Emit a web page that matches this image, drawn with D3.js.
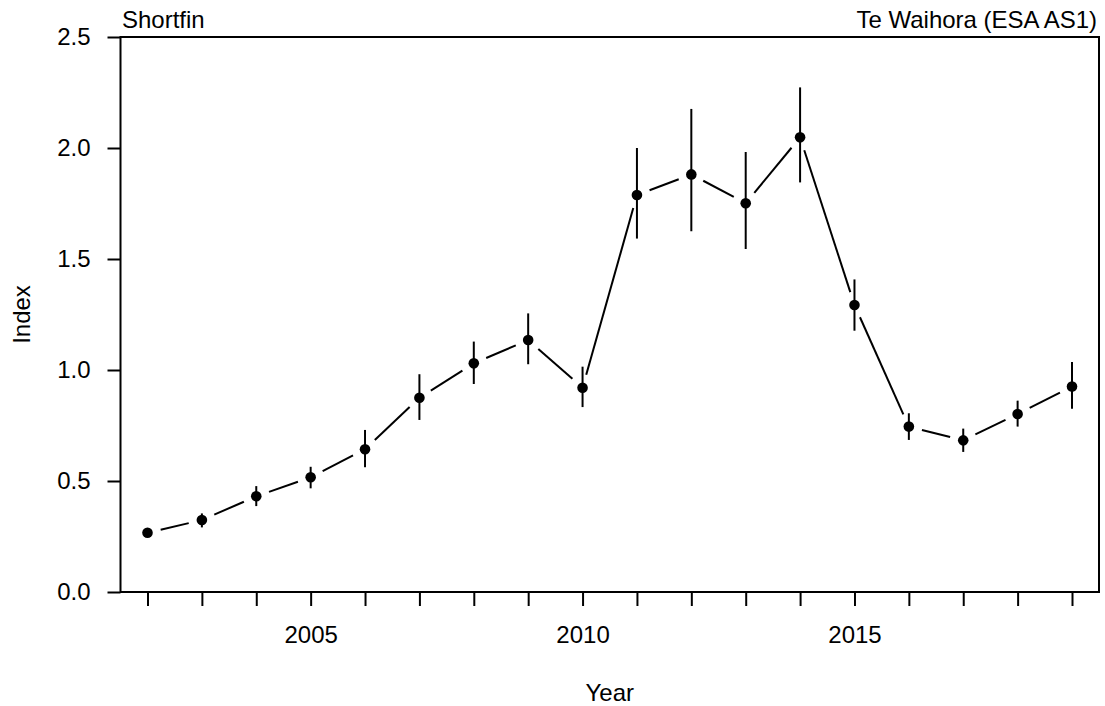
<!DOCTYPE html>
<html>
<head>
<meta charset="utf-8">
<script src="https://cdn.jsdelivr.net/npm/d3@7"></script>
<style>
  body { margin: 0; background: #fff; }
  text { font-family: "Liberation Sans", Arial, sans-serif; fill: #000; }
</style>
</head>
<body>
<div id="display"></div>
<script>
// data
var years = [2002, 2003, 2004, 2005, 2006, 2007, 2008, 2009, 2010, 2011, 2012, 2013, 2014, 2015, 2016, 2017, 2018, 2019];
var index = [0.267, 0.324, 0.431, 0.517, 0.643, 0.875, 1.030, 1.135, 0.920, 1.788, 1.881, 1.751, 2.048, 1.293, 0.745, 0.683, 0.802, 0.926];
var lower = [0.255, 0.291, 0.387, 0.467, 0.562, 0.775, 0.937, 1.026, 0.833, 1.592, 1.625, 1.545, 1.845, 1.177, 0.685, 0.631, 0.745, 0.826];
var upper = [0.282, 0.354, 0.477, 0.564, 0.730, 0.981, 1.128, 1.255, 1.015, 2.000, 2.176, 1.982, 2.273, 1.408, 0.805, 0.736, 0.862, 1.036];
var yTicks = [0, 0.5, 1.0, 1.5, 2.0, 2.5];
var xLabels = [2005, 2010, 2015];

var width = 1105, height = 706;
var box = {left: 120.5, right: 1099, top: 37, bottom: 592};

var svg = d3.select("#display").append("svg")
    .attr("width", width)
    .attr("height", height);

var x = d3.scaleLinear()
    .domain([2002, 2019])
    .range([147.5, 1072]);

var y = d3.scaleLinear()
    .domain([0, 2.5])
    .range([box.bottom, box.top]);

// axes
var yAxis = svg.append("g")
    .attr("transform", "translate(" + box.left + ",0)")
    .call(d3.axisLeft(y).tickValues(yTicks).tickFormat(d3.format(".1f"))
      .tickSize(13).tickPadding(17).tickSizeOuter(0));
yAxis.select(".domain").remove();

var xAxis = svg.append("g")
    .attr("transform", "translate(0," + box.bottom + ")")
    .call(d3.axisBottom(x).tickValues(years)
      .tickFormat(function (d) { return xLabels.indexOf(d) >= 0 ? d : ""; })
      .tickSize(14).tickPadding(20).tickSizeOuter(0));
xAxis.select(".domain").remove();

svg.selectAll(".tick line").attr("stroke", "#000").attr("stroke-width", 2);
svg.selectAll(".tick text").style("font-size", "24px").attr("fill", "#000");

// frame
svg.append("rect")
    .attr("x", box.left)
    .attr("y", box.top)
    .attr("width", box.right - box.left)
    .attr("height", box.bottom - box.top)
    .attr("fill", "none")
    .attr("stroke", "#000")
    .attr("stroke-width", 2);

// connecting segments, with gaps round each point
var gap = 13.5;
var segs = [];
for (var i = 0; i < years.length - 1; i++) {
  var x1 = x(years[i]), y1 = y(index[i]), x2 = x(years[i + 1]), y2 = y(index[i + 1]);
  var len = Math.sqrt((x2 - x1) * (x2 - x1) + (y2 - y1) * (y2 - y1));
  var ux = (x2 - x1) / len, uy = (y2 - y1) / len;
  segs.push({x1: x1 + ux * gap, y1: y1 + uy * gap, x2: x2 - ux * gap, y2: y2 - uy * gap});
}
svg.append("g")
    .attr("stroke", "#000")
    .attr("stroke-width", 2)
  .selectAll("line")
  .data(segs)
  .join("line")
    .attr("x1", d => d.x1).attr("y1", d => d.y1)
    .attr("x2", d => d.x2).attr("y2", d => d.y2);

// error bars
svg.append("g")
    .attr("stroke", "#000")
    .attr("stroke-width", 2)
  .selectAll("line")
  .data(years)
  .join("line")
    .attr("x1", d => x(d)).attr("x2", d => x(d))
    .attr("y1", (d, i) => y(lower[i]))
    .attr("y2", (d, i) => y(upper[i]));

// points
svg.append("g")
  .selectAll("circle")
  .data(years)
  .join("circle")
    .attr("cx", d => x(d))
    .attr("cy", (d, i) => y(index[i]))
    .attr("r", 5.3)
    .attr("fill", "#000");

// labels
svg.append("text")
    .attr("x", 122)
    .attr("y", 28)
    .style("font-size", "24px")
    .text("Shortfin");

svg.append("text")
    .attr("x", 1097)
    .attr("y", 28)
    .attr("text-anchor", "end")
    .style("font-size", "24px")
    .text("Te Waihora (ESA AS1)");

svg.append("text")
    .attr("x", (box.left + box.right) / 2)
    .attr("y", 701)
    .attr("text-anchor", "middle")
    .style("font-size", "24px")
    .text("Year");

svg.append("text")
    .attr("transform", "translate(30," + ((box.top + box.bottom) / 2) + ") rotate(-90)")
    .attr("text-anchor", "middle")
    .style("font-size", "24px")
    .text("Index");
</script>
</body>
</html>
